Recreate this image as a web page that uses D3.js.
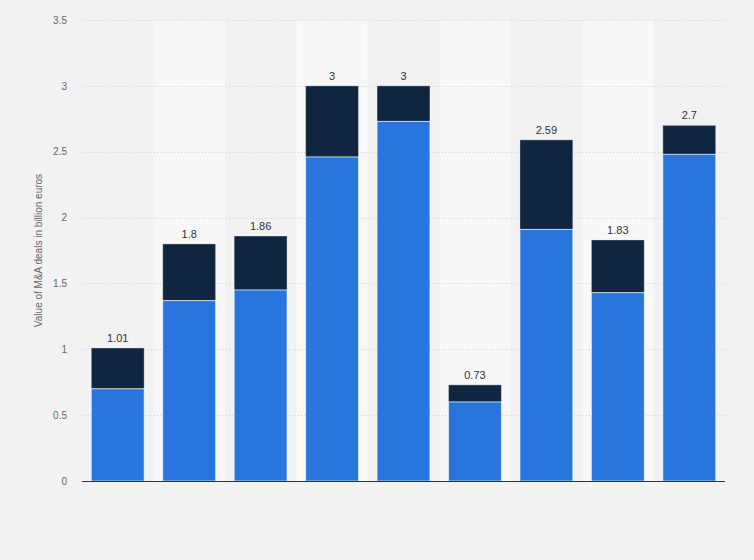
<!DOCTYPE html>
<html>
<head>
<meta charset="utf-8">
<script src="https://cdn.jsdelivr.net/npm/d3@7"></script>
<style>
  body { margin: 0; background: #f2f2f2; }
  svg { display: block; font-family: "Liberation Sans", Arial, sans-serif; }
</style>
</head>
<body>
<div id="chart"></div>
<script>
// values (billion euros)
var categories = ["1", "2", "3", "4", "5", "6", "7", "8", "9"];
var lower = [0.70, 1.37, 1.45, 2.46, 2.73, 0.60, 1.91, 1.43, 2.48];
var totals = [1.01, 1.8, 1.86, 3, 3, 0.73, 2.59, 1.83, 2.7];
var totalLabels = ["1.01", "1.8", "1.86", "3", "3", "0.73", "2.59", "1.83", "2.7"];
var yTicks = [0, 0.5, 1, 1.5, 2, 2.5, 3, 3.5];

var w = 754, h = 560;
var margin = { top: 20, right: 29, bottom: 79, left: 82 };

var svg = d3.select("#chart")
    .append("svg")
    .attr("width", w)
    .attr("height", h);

svg.append("rect")
    .attr("width", w)
    .attr("height", h)
    .attr("fill", "#f2f2f2");

var x = d3.scaleBand()
    .domain(categories)
    .range([margin.left, w - margin.right])
    .paddingInner(0.26)
    .paddingOuter(0.13);

var y = d3.scaleLinear()
    .domain([0, 3.5])
    .range([h - margin.bottom, margin.top]);

// alternating bands
var step = x.step();
svg.selectAll(".band")
    .data(categories.filter(function(d, i) { return i % 2 == 1; }))
    .enter()
    .append("rect")
    .attr("class", "band")
    .attr("x", function(d) { return x(d) - (step - x.bandwidth()) / 2; })
    .attr("y", y(3.5))
    .attr("width", step)
    .attr("height", y(0) - y(3.5))
    .attr("fill", "#f8f8f8");

// gridlines
svg.selectAll(".grid")
    .data(yTicks.filter(function(d) { return d > 0; }))
    .enter()
    .append("line")
    .attr("class", "grid")
    .attr("x1", margin.left)
    .attr("x2", w - margin.right)
    .attr("y1", function(d) { return Math.round(y(d)) + 0.5; })
    .attr("y2", function(d) { return Math.round(y(d)) + 0.5; })
    .attr("stroke", "#d0d0d0")
    .attr("stroke-dasharray", "1,2");

// y axis labels
var yAxis = d3.axisLeft(y)
    .tickValues(yTicks)
    .tickFormat(d3.format("~g"))
    .tickSize(0)
    .tickPadding(0);

var gy = svg.append("g")
    .attr("transform", "translate(67,0)")
    .call(yAxis);
gy.select(".domain").remove();
gy.selectAll("text")
    .attr("fill", "#666")
    .style("font-size", "10px");

svg.append("text")
    .attr("transform", "translate(42," + (y(1.75)) + ") rotate(-90)")
    .attr("text-anchor", "middle")
    .attr("fill", "#666")
    .style("font-size", "10px")
    .text("Value of M&A deals in billion euros");

// stacked bars
var bars = svg.selectAll(".bar")
    .data(categories)
    .enter()
    .append("g")
    .attr("class", "bar");

bars.append("rect")
    .attr("x", function(d) { return x(d); })
    .attr("y", function(d, i) { return y(totals[i]); })
    .attr("width", x.bandwidth())
    .attr("height", function(d, i) { return y(lower[i]) - y(totals[i]); })
    .attr("fill", "#0f2640")
    .attr("stroke", "#ffffff")
    .attr("stroke-opacity", 0.35)
    .attr("stroke-width", 1);

bars.append("rect")
    .attr("x", function(d) { return x(d); })
    .attr("y", function(d, i) { return y(lower[i]); })
    .attr("width", x.bandwidth())
    .attr("height", function(d, i) { return y(0) - y(lower[i]); })
    .attr("fill", "#2876dd")
    .attr("stroke", "#ffffff")
    .attr("stroke-opacity", 0.6)
    .attr("stroke-width", 1);

bars.append("text")
    .attr("x", function(d) { return x(d) + x.bandwidth() / 2; })
    .attr("y", function(d, i) { return y(totals[i]) - 6; })
    .attr("text-anchor", "middle")
    .attr("fill", "#333")
    .style("font-size", "11px")
    .text(function(d, i) { return totalLabels[i]; });

// baseline
svg.append("line")
    .attr("x1", margin.left)
    .attr("x2", w - margin.right)
    .attr("y1", y(0) + 0.5)
    .attr("y2", y(0) + 0.5)
    .attr("stroke", "#333")
    .attr("stroke-width", 1);
</script>
</body>
</html>
